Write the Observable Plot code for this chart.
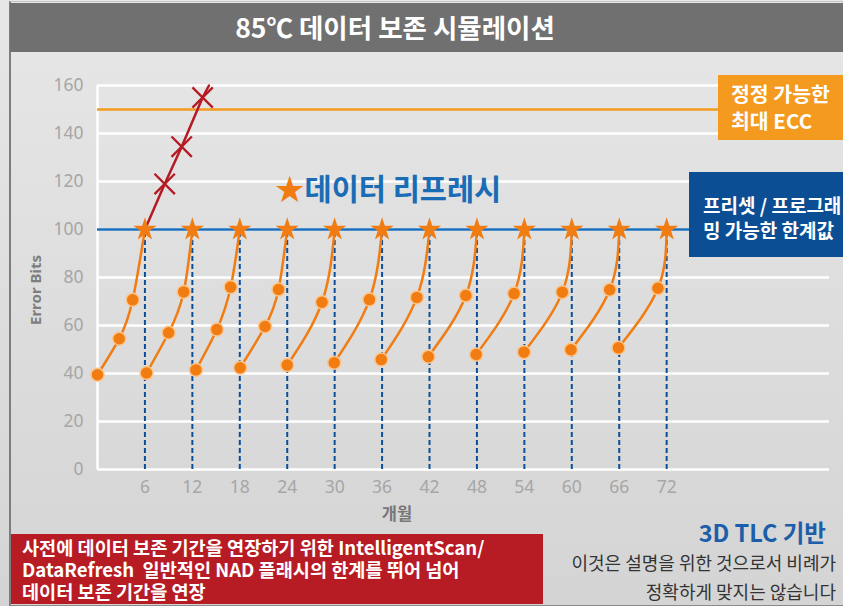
<!DOCTYPE html>
<html><head><meta charset="utf-8">
<script src="https://cdn.jsdelivr.net/npm/d3@7"></script>
<script src="https://cdn.jsdelivr.net/npm/@observablehq/plot@0.6"></script>
<style>
body{margin:0;background:#fff;}
#wrap{position:relative;width:843px;height:606px;overflow:hidden;background:linear-gradient(#e7e7e7,#d4d4d4);font-family:"Noto Sans CJK KR","Noto Sans",sans-serif;}
#wrap svg{position:absolute;left:0;top:0;}
.abs{position:absolute;white-space:pre;}
#frame{position:absolute;left:9px;top:1px;width:840px;height:603px;border-left:2px solid #7d7d7d;border-top:1px solid #c4c4c4;border-bottom:2px solid #8a8a8a;}
#titlebar{position:absolute;left:10px;top:3px;width:833px;height:49px;background:#707070;}
</style></head><body>
<div id="wrap">
  <div id="frame"></div>
  <div id="titlebar"></div>
  <div class="abs" id="title" style="left:395px;top:10px;transform:translateX(-50%);font-size:26.5px;line-height:34px;font-weight:700;color:#fff;"></div>
  <div class="abs" id="refresh" style="left:275px;top:168px;font-size:29.5px;line-height:38px;font-weight:700;color:#1a6cb5;"></div>
  <div class="abs" style="left:718px;top:75px;width:125px;height:65px;background:#f39a1f;"></div>
  <div class="abs" id="eccLabel" style="left:731px;top:80px;font-size:20.5px;line-height:27px;font-weight:700;color:#fff;"></div>
  <div class="abs" style="left:689px;top:172px;width:154px;height:85px;background:#0b4e93;overflow:hidden;"></div>
  <div class="abs" id="limitLabel" style="left:703px;top:192px;width:140px;overflow:hidden;font-size:19px;line-height:25px;font-weight:700;color:#fff;"></div>
  <div class="abs" style="left:11px;top:534px;width:532px;height:70px;background:#b71c25;"></div>
  <div class="abs" id="noteLabel" style="left:22px;top:536px;font-size:18.6px;line-height:22px;font-weight:700;color:#fff;"></div>
  <div class="abs" id="tlc" style="right:17px;top:517px;font-size:23.5px;line-height:30px;font-weight:700;color:#1c5ea9;"></div>
  <div class="abs" id="disclaimer" style="right:7px;top:548px;font-size:18px;line-height:29px;color:#333;text-align:right;"></div>
  <div class="abs" id="ylab" style="left:35px;top:290px;transform:translate(-50%,-50%) rotate(-90deg);font-family:'Noto Sans',sans-serif;font-size:15px;font-weight:700;color:#7e7e7e;"></div>
  <div class="abs" id="xlab" style="left:397px;top:513px;transform:translate(-50%,-50%);font-size:16.5px;font-weight:700;color:#777;"></div>
</div>
<script>
// ---- data ----
const titleText = "85℃ 데이터 보존 시뮬레이션";
const xTicks = [6, 12, 18, 24, 30, 36, 42, 48, 54, 60, 66, 72];
const yTicks = [0, 20, 40, 60, 80, 100, 120, 140, 160];
const refreshLimit = 100;
const maxEcc = 150;
const refreshMonths = [6, 12, 18, 24, 30, 36, 42, 48, 54, 60, 66, 72];
const curveMonths = [
  [0, 2.75, 4.45], [6.2, 9.0, 10.9], [12.45, 15.1, 16.85], [18.05, 21.2, 22.9],
  [24.0, 28.4], [29.95, 34.4], [35.9, 40.4], [41.85, 46.6],
  [47.9, 52.7], [53.95, 58.8], [59.9, 64.8], [65.9, 70.9]
];
const curveValues = [
  [39.5, 54.5, 70.7], [40.2, 57, 74], [41.5, 58.3, 76], [42.4, 59.6, 75],
  [43.5, 69.7], [44.5, 70.8], [45.8, 71.7], [47, 72.5],
  [47.9, 73.3], [48.9, 73.9], [49.9, 74.9], [50.7, 75.5]
];
const failLineMonths = [6, 8.5, 10.65, 13.3, 14.1];
const failLineValues = [100, 119, 134.5, 155, 160];
const failMonths = [8.5, 10.65, 13.3];
const failValues = [119, 134.5, 155];
const xLabel = "개월";
const yLabel = "Error Bits";
const refreshText = "데이터 리프레시";
const eccText = ["정정 가능한", "최대 ECC"];
const limitText = ["프리셋 / 프로그래", "밍 가능한 한계값"];
const noteText = ["사전에 데이터 보존 기간을 연장하기 위한 IntelligentScan/", "DataRefresh  일반적인 NAD 플래시의 한계를 뛰어 넘어", "데이터 보존 기간을 연장"];
const tlcText = "3D TLC 기반";
const disclaimerText = ["이것은 설명을 위한 것으로서 비례가", "정확하게 맞지는 않습니다"];

// ---- tables ----
const curvePts = [];
const dotPts = [];
curveMonths.forEach((ms, k) => {
  ms.forEach((m, i) => {
    const p = {seg: k, month: m, bits: curveValues[k][i]};
    curvePts.push(p); dotPts.push(p);
  });
  curvePts.push({seg: k, month: refreshMonths[k], bits: refreshLimit});
});
const failLine = failLineMonths.map((m, i) => ({month: m, bits: failLineValues[i]}));
const failPts = failMonths.map((m, i) => ({month: m, bits: failValues[i]}));
const stars = refreshMonths.map(m => ({month: m, bits: refreshLimit}));

const orange = "#f07c12";
const chart = Plot.plot({
  width: 843, height: 606,
  marginLeft: 97, marginRight: 14, marginTop: 85, marginBottom: 137,
  style: {background: "transparent", fontFamily: "'Noto Sans', sans-serif", overflow: "visible"},
  x: {domain: [0, 92.6]},
  y: {domain: [0, 160]},
  marks: [
    Plot.gridY(yTicks, {stroke: "#fff", strokeOpacity: 1, strokeWidth: 2.5}),
    Plot.ruleX([0], {stroke: "#fff", strokeWidth: 2.5}),
    Plot.axisY(yTicks, {tickSize: 0, tickPadding: 14, fontSize: 17.5, fill: "#a6a6a6", label: null}),
    Plot.axisX(xTicks, {tickSize: 0, tickPadding: 11, fontSize: 17.5, fill: "#a6a6a6", label: null}),
    Plot.ruleX(refreshMonths, {y1: 0, y2: refreshLimit, stroke: "#0b4f9c", strokeWidth: 2, strokeDasharray: "5,3"}),
    Plot.ruleY([maxEcc], {stroke: "#f39a1f", strokeWidth: 2.5}),
    Plot.ruleY([refreshLimit], {stroke: "#1a6fbd", strokeWidth: 2.5}),
    Plot.line(failLine, {x: "month", y: "bits", stroke: "#b51a23", strokeWidth: 2.5}),
    Plot.line(curvePts, {x: "month", y: "bits", z: "seg", stroke: orange, strokeWidth: 2.5, curve: "natural"}),
    Plot.dot(dotPts, {x: "month", y: "bits", r: 6.5, fill: orange, stroke: "#fbc58c", strokeWidth: 1.5}),
    Plot.dot(stars, {x: "month", y: "bits", symbol: "star", r: 7.3, fill: orange, stroke: "none"}),
    Plot.dot(failPts, {x: "month", y: "bits", symbol: "times", r: 9.3, stroke: "#b51a23", strokeWidth: 2.3})
  ]
});
const wrap = document.getElementById("wrap");
wrap.insertBefore(chart, document.getElementById("frame").nextSibling);

document.getElementById("title").textContent = titleText;
document.getElementById("refresh").innerHTML = '<span style="color:' + orange + ';">★</span>' + refreshText;
document.getElementById("eccLabel").textContent = eccText.join("\n");
document.getElementById("limitLabel").textContent = limitText.join("\n");
document.getElementById("noteLabel").textContent = noteText.join("\n");
document.getElementById("tlc").textContent = tlcText;
document.getElementById("disclaimer").textContent = disclaimerText.join("\n");
document.getElementById("ylab").textContent = yLabel;
document.getElementById("xlab").textContent = xLabel;
</script>
</body></html>
